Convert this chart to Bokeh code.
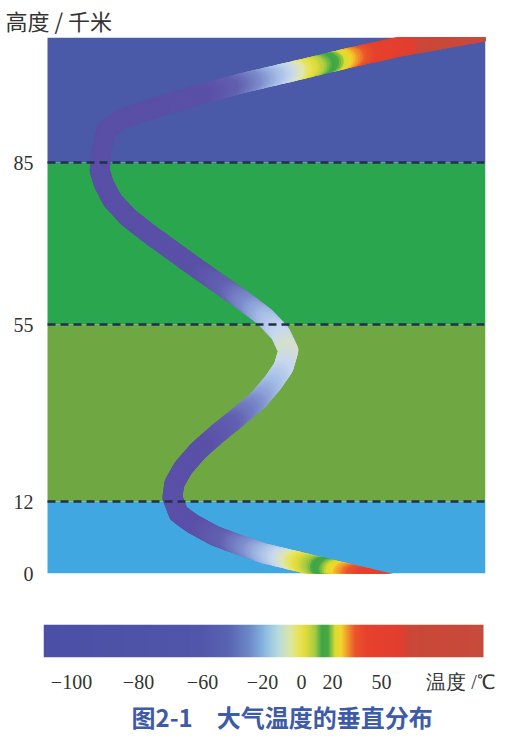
import numpy as np
from bokeh.plotting import figure
from bokeh.models import (Range1d, FixedTicker, LinearColorMapper, ColumnDataSource,
                          Title, BoxAnnotation)
from bokeh.layouts import column
from bokeh.embed import file_html
from bokeh.resources import INLINE

# ---------------- data ----------------
Y_TITLE = "高度 / 千米"
CAPTION = "图2-1\u3000大气温度的垂直分布"
TEMP_UNIT = "温度 /℃"

ALT_TICKS = [0, 12, 55, 85]                      # km
TEMP_TICKS = [-100, -80, -60, -20, 0, 20, 50]    # deg C

LAYER_BOTTOM = [0, 12, 55, 85]
LAYER_TOP = [12, 55, 85, 110]
BOUNDARIES = [12, 55, 85]

# temperature curve (centre line), top to bottom
CURVE_TEMP = [122.9, 92.2, 61.6, 31.0, -0.5, -15.9, -34.7, -51.3, -63.8, -71.6,
              -79.4, -85.4, -89.6, -91.0, -91.6, -90.4, -87.8, -83.0, -76.9, -69.4,
              -62.2, -49.3, -32.7, -18.5, -10.8, -6.7, -9.2, -14.9, -23.3, -36.7,
              -50.0, -61.3, -65.9, -68.8, -69.4, -67.5, -63.1, -52.0, -34.7, -18.5,
              -5.6, 9.0, 24.9, 52.4, 80.0]
CURVE_ALT = [111.8, 110.0, 108.2, 106.0, 103.6, 102.2, 100.8, 99.4, 98.0, 96.6,
             95.0, 93.6, 91.4, 87.4, 83.5, 81.1, 78.0, 74.8, 71.9, 68.7,
             65.6, 62.6, 59.4, 56.3, 52.8, 48.7, 44.6, 40.7, 36.5, 32.4,
             28.5, 24.4, 20.3, 16.4, 13.0, 10.0, 8.3, 6.3, 4.7, 3.3,
             2.3, 1.3, 0.3, -1.5, -3.2]

# ---------------- layout / scale (schematic, piecewise axes) ----------------
ALT_KNOTS = [-20, 0, 12, 55, 85, 110, 200]
ALT_POS = [-120, 0, 72, 249, 411, 536, 986]
TEMP_KNOTS = [-200, -100, -80, -60, -20, 0, 20, 50, 200]
TEMP_POS = [-264, 71, 138, 202, 262, 301, 332, 381, 626]
UNIT_POS = 461
FRAME_X = (43, 485)
PANEL_LEFT = 47
BAR_X = (43, 483)


def ypos(a):
    return np.interp(a, ALT_KNOTS, ALT_POS)


def xpos(t):
    return np.interp(t, TEMP_KNOTS, TEMP_POS)


LAYER_COLORS = ["#40a7e0", "#6fa742", "#2aa64f", "#4a59a8"]
BAR_STOPS = [(43, "#4b4fa5"), (200, "#5256aa"), (228, "#5a64b2"), (248, "#6c88c8"),
             (265, "#8cbbe3"), (279, "#b9dcdc"), (290, "#dbe6a6"), (299, "#e9e356"),
             (306, "#dedb3c"), (315, "#a6cb40"), (322, "#3ea548"), (328, "#46a944"),
             (335, "#d8dc34"), (341, "#f3d62a"), (348, "#f1932d"), (355, "#ea552b"),
             (366, "#e6412c"), (402, "#e13e2f"), (410, "#cb4737"), (483, "#c74a3b")]
CURVE_STOPS = [(43, "#594ea6"), (200, "#5a50a8"), (228, "#6260b0"), (250, "#7c8ccc"),
               (268, "#a4bde6"), (282, "#c8d8ee"), (292, "#dfe6b0")] + BAR_STOPS[7:]


def make_palette(stops, lo, hi, n):
    sx = [s[0] for s in stops]
    rgb = np.array([[int(c[i:i + 2], 16) for i in (1, 3, 5)] for _, c in stops], float)
    out = []
    for x in np.linspace(lo, hi, n):
        r, g, b = (np.interp(x, sx, rgb[:, k]) for k in range(3))
        out.append("#%02x%02x%02x" % (int(round(r)), int(round(g)), int(round(b))))
    return out


bar_mapper = LinearColorMapper(palette=make_palette(BAR_STOPS, *BAR_X, 441),
                               low=BAR_X[0], high=BAR_X[1])
curve_mapper = LinearColorMapper(palette=make_palette(CURVE_STOPS, *BAR_X, 441),
                                 low=BAR_X[0], high=BAR_X[1])

W = 500

# ---------------- main panel ----------------
fa = figure(width=W, height=600, x_range=Range1d(*FRAME_X),
            y_range=Range1d(0, float(ypos(LAYER_TOP[-1]))),
            toolbar_location=None, output_backend="svg", x_axis_location=None,
            min_border_left=FRAME_X[0], min_border_right=W - FRAME_X[1],
            min_border_top=37, min_border_bottom=27)
fa.grid.visible = False
fa.outline_line_color = None
fa.background_fill_color = "white"

fa.title.text = Y_TITLE
fa.title.align = "left"
fa.title.vertical_align = "top"
fa.title.offset = -38
fa.title.standoff = 0
fa.title.text_font = "Noto Sans CJK SC"
fa.title.text_font_size = "22px"
fa.title.text_font_style = "normal"
fa.title.text_color = "#333333"

for b, t, c in zip(LAYER_BOTTOM, LAYER_TOP, LAYER_COLORS):
    fa.add_layout(BoxAnnotation(left=PANEL_LEFT, bottom=float(ypos(b)), top=float(ypos(t)),
                                fill_color=c, fill_alpha=1.0, line_color=None,
                                level="underlay"))

px = xpos(CURVE_TEMP)
py = ypos(CURVE_ALT)
x0s, y0s, x1s, y1s, cs = [], [], [], [], []
for i in range(len(px) - 1):
    d = np.hypot(px[i + 1] - px[i], py[i + 1] - py[i])
    k = max(1, int(np.ceil(d / 2.5)))
    for j in range(k):
        a, bb = j / k, (j + 1) / k
        xa = px[i] + (px[i + 1] - px[i]) * a
        ya = py[i] + (py[i + 1] - py[i]) * a
        xb = px[i] + (px[i + 1] - px[i]) * bb
        yb = py[i] + (py[i + 1] - py[i]) * bb
        x0s.append(xa); y0s.append(ya); x1s.append(xb); y1s.append(yb)
        cs.append((xa + xb) / 2)
src = ColumnDataSource(dict(x0=x0s, y0=y0s, x1=x1s, y1=y1s, c=cs))
fa.segment(x0="x0", y0="y0", x1="x1", y1="y1", source=src, line_width=20,
           line_cap="round", line_color=dict(field="c", transform=curve_mapper))

bsrc = ColumnDataSource(dict(y=[float(ypos(b)) for b in BOUNDARIES]))
fa.segment(x0=PANEL_LEFT, x1=FRAME_X[1], y0="y", y1="y", source=bsrc,
           line_color="#22304a", line_width=2.5, line_dash="8 5")

tick_pos = [int(round(float(ypos(a)))) for a in ALT_TICKS]
fa.yaxis.ticker = FixedTicker(ticks=tick_pos)
fa.yaxis.major_label_overrides = {p: str(a) for p, a in zip(tick_pos, ALT_TICKS)}
fa.yaxis.axis_line_color = None
fa.yaxis.major_tick_line_color = None
fa.yaxis.minor_tick_line_color = None
fa.yaxis.major_tick_out = 0
fa.yaxis.major_tick_in = 0
fa.yaxis.major_label_standoff = 10
fa.yaxis.major_label_text_font = "Liberation Serif"
fa.yaxis.major_label_text_font_size = "20px"
fa.yaxis.major_label_text_color = "#333333"

# ---------------- colour bar ----------------
fb = figure(width=W, height=134, x_range=Range1d(*FRAME_X), y_range=Range1d(0, 1),
            toolbar_location=None, output_backend="svg", y_axis_location=None,
            min_border_left=FRAME_X[0], min_border_right=W - FRAME_X[1],
            min_border_top=24, min_border_bottom=72)
fb.grid.visible = False
fb.outline_line_color = None
bar_vals = np.linspace(BAR_X[0], BAR_X[1], 441)[None, :]
fb.image(image=[bar_vals], x=BAR_X[0], y=0, dw=BAR_X[1] - BAR_X[0], dh=1,
         color_mapper=bar_mapper)

t_pos = [int(round(float(xpos(t)))) for t in TEMP_TICKS]
fb.xaxis.ticker = FixedTicker(ticks=t_pos + [UNIT_POS])
labels = {p: (("\u2212" + str(abs(t))) if t < 0 else str(t)) for p, t in zip(t_pos, TEMP_TICKS)}
labels[UNIT_POS] = TEMP_UNIT
fb.xaxis.major_label_overrides = labels
fb.xaxis.axis_line_color = None
fb.xaxis.major_tick_line_color = None
fb.xaxis.minor_tick_line_color = None
fb.xaxis.major_tick_out = 0
fb.xaxis.major_tick_in = 0
fb.xaxis.major_label_standoff = 13
fb.xaxis.major_label_text_font = "Liberation Serif"
fb.xaxis.major_label_text_font_size = "20px"
fb.xaxis.major_label_text_color = "#333333"

cap = Title(text=CAPTION, align="left", offset=88, text_font="Noto Sans CJK SC",
            text_font_size="24px", text_font_style="bold", text_color="#3d5ba9",
            standoff=2)
fb.add_layout(cap, "below")

layout = column(fa, fb, spacing=0)
open("out.html", "w").write(file_html(layout, INLINE))
